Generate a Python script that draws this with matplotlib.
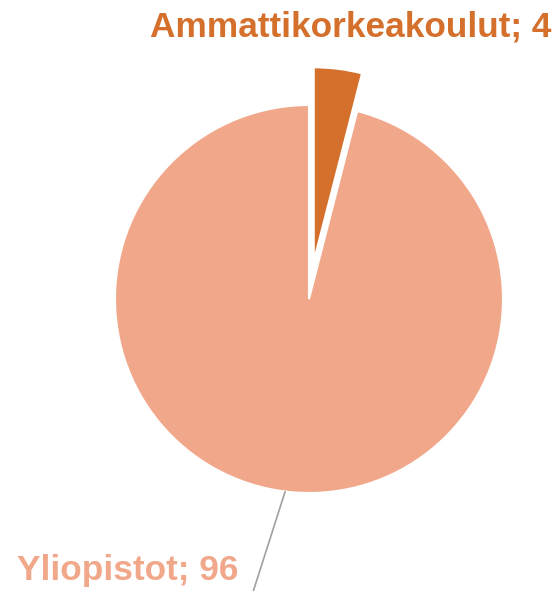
import matplotlib
matplotlib.use("Agg")
import matplotlib.pyplot as plt

categories = ["Ammattikorkeakoulut", "Yliopistot"]
values = [4, 96]
colors = ["#D4702C", "#F1A88A"]

W, H = 557, 591
fig = plt.figure(figsize=(W / 100, H / 100), dpi=100)
ax = fig.add_axes([0, 0, 1, 1])

cx, cy, r = 309, H - 299, 194
wedges, _ = ax.pie(values, colors=colors, startangle=90, counterclock=False,
                   explode=[38, 0], radius=r, center=(cx, cy),
                   wedgeprops=dict(edgecolor="white", linewidth=1.5))
ax.set_xlim(0, W)
ax.set_ylim(0, H)
ax.set_aspect("equal")
ax.axis("off")

ax.text(552, H - 36, f"{categories[0]}; {values[0]}", color=colors[0],
        fontsize=25.4, fontweight="bold", family="Liberation Sans",
        ha="right", va="baseline")
ax.text(17, H - 580, f"{categories[1]}; {values[1]}", color=colors[1],
        fontsize=25.4, fontweight="bold", family="Liberation Sans",
        ha="left", va="baseline")
ax.plot([285, 253], [H - 492, H - 592], color="#A0A0A0", lw=1.2, clip_on=False)

fig.savefig("out.png", dpi=100)
